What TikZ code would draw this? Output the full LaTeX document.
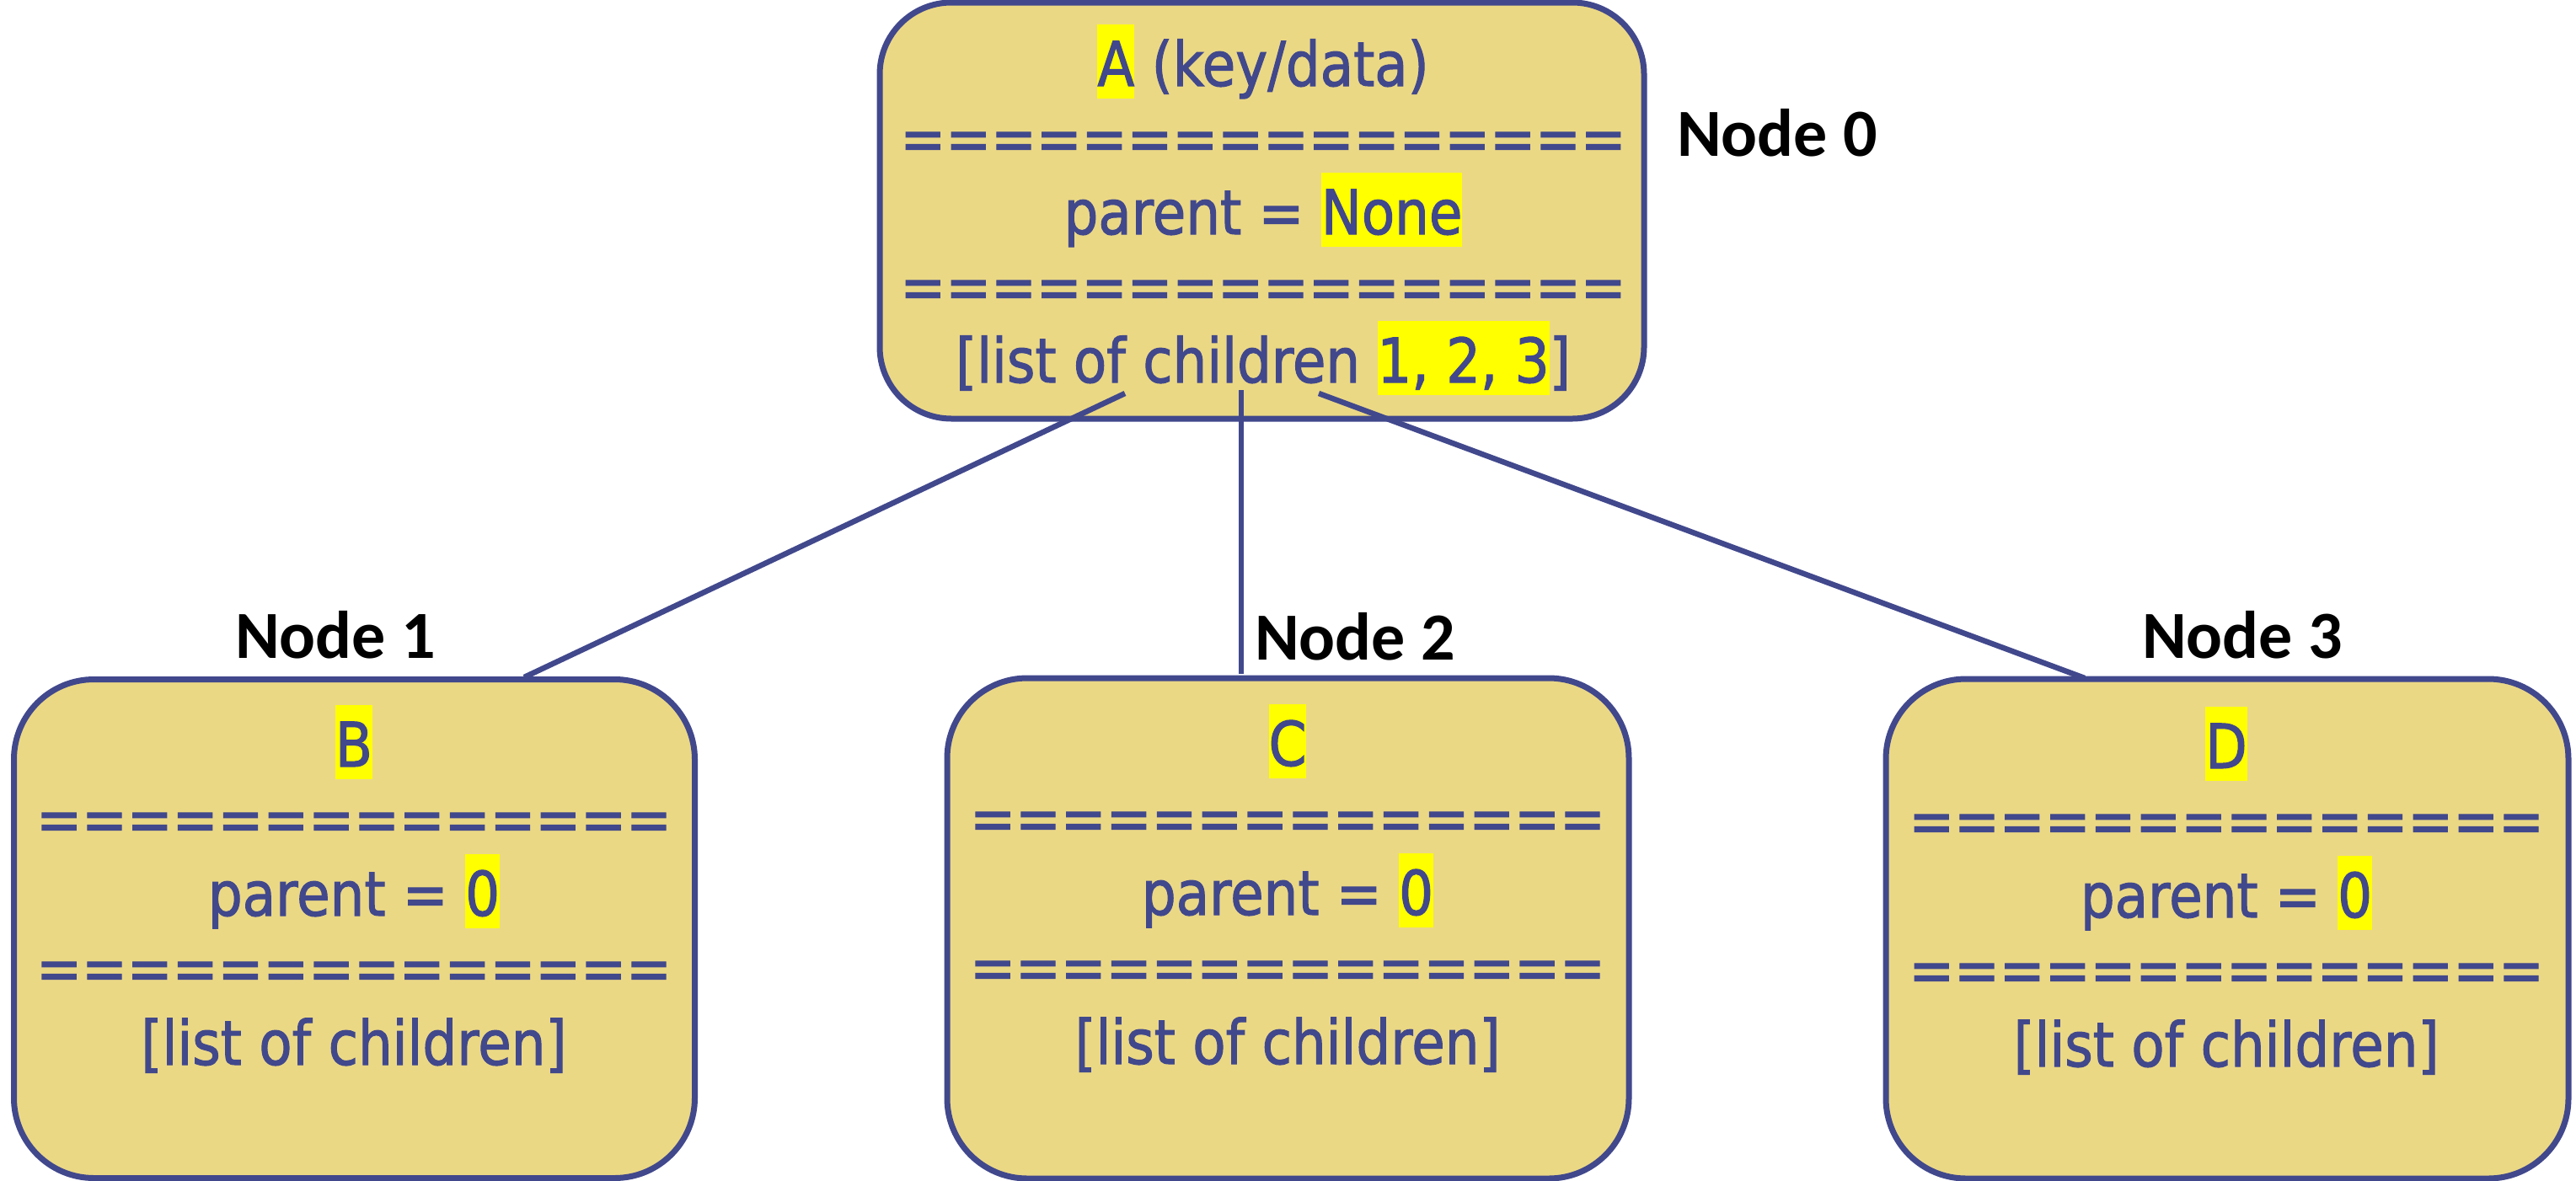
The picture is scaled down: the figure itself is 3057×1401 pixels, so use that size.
\documentclass[tikz,border=0pt]{standalone}
\usepackage{fontspec}
\newfontfamily\boxfont[FakeStretch=0.88,FakeBold=1.5]{DejaVu Sans}
\newfontfamily\labfont{Carlito}
\definecolor{boxfill}{RGB}{235,216,133}
\definecolor{boxline}{RGB}{65,72,140}
\definecolor{hly}{RGB}{255,255,0}
\newcommand\hlt[1]{{\setlength{\fboxsep}{0pt}\colorbox{hly}{\rule[-0.205em]{0pt}{1.205em}#1}}}
\begin{document}
\begin{tikzpicture}[x=1pt,y=-1pt,
  nodebox/.style={draw=boxline, fill=boxfill, line width=7pt, rounded corners=95pt, inner sep=0pt, outer sep=0pt, rectangle},
  txt/.style={font=\boxfont\fontsize{73}{88}\selectfont, text=boxline, inner sep=0pt, anchor=base},
  lab/.style={font=\labfont\bfseries\fontsize{80}{96}\selectfont, text=black, inner sep=0pt, anchor=base west},
  link/.style={draw=boxline, line width=6.5pt}]
\useasboundingbox (0,0) rectangle (3057,1401);
\fill[white] (0,0) rectangle (3057,1401);

% boxes
\node[nodebox, rounded corners=85pt, minimum width=907pt, minimum height=494pt] (n0) at (1497.5,250) {};
\node[nodebox, minimum width=808pt, minimum height=592pt] (n1) at (420.5,1102.5) {};
\node[nodebox, minimum width=809pt, minimum height=594pt] (n2) at (1528.5,1102) {};
\node[nodebox, minimum width=810pt, minimum height=593pt] (n3) at (2643,1102.5) {};

% texts node 0
\node[txt] (a1) at (1499,102) {\hlt{A} (key/data)};
\node[txt] (a2) at (1499,190) {================};
\node[txt] (a3) at (1499,278) {parent = \hlt{None}};
\node[txt] (a4) at (1499,366) {================};
\node[txt] (a5) at (1499,454) {[list of children \hlt{1, 2, 3}]};

% texts node 1
\node[txt] (b1) at (420,910) {\hlt{B}};
\node[txt] (b2) at (420,998) {==============};
\node[txt] (b3) at (420,1087) {parent = \hlt{0}};
\node[txt] (b4) at (420,1175) {==============};
\node[txt] (b5) at (420,1264) {[list of children]};

% texts node 2
\node[txt] (c1) at (1528,909) {\hlt{C}};
\node[txt] (c2) at (1528,997) {==============};
\node[txt] (c3) at (1528,1086) {parent = \hlt{0}};
\node[txt] (c4) at (1528,1174) {==============};
\node[txt] (c5) at (1528,1263) {[list of children]};

% texts node 3
\node[txt] (d1) at (2642,912) {\hlt{D}};
\node[txt] (d2) at (2642,1000) {==============};
\node[txt] (d3) at (2642,1089) {parent = \hlt{0}};
\node[txt] (d4) at (2642,1177) {==============};
\node[txt] (d5) at (2642,1266) {[list of children]};

% labels
\node[lab] (l0) at (1990,185) {Node 0};
\node[lab] (l1) at (279,781) {Node 1};
\node[lab] (l2) at (1489,783) {Node 2};
\node[lab] (l3) at (2542,781) {Node 3};

% connectors
\coordinate (s1) at (1335,467);
\coordinate (s2) at (1473,463);
\coordinate (s3) at (1565,467);
\coordinate (e1) at (622,804);
\coordinate (e2) at (1473,800);
\coordinate (e3) at (2474,805);
\draw[link] (s1) -- (e1);
\draw[link] (s2) -- (e2);
\draw[link] (s3) -- (e3);
\end{tikzpicture}
\end{document}
